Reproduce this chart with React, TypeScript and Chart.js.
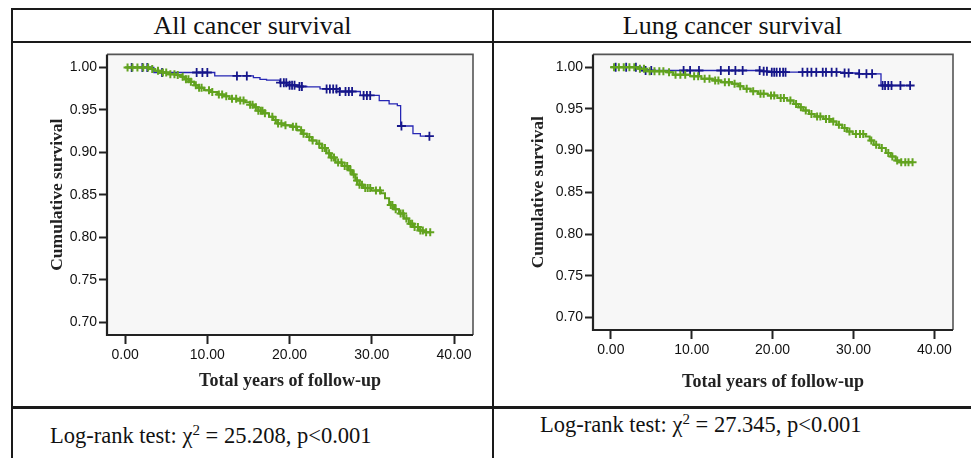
import React, { useEffect, useRef } from "react";
import { Chart, registerables } from "chart.js";

Chart.register(...registerables);

// ---------- text ----------
const PANEL_TITLES = ["All cancer survival", "Lung cancer survival"];
const CHI_SQUARE = ["25.208", "27.345"];
const P_TEXT = "p<0.001";
const X_TITLE = "Total years of follow-up";
const Y_TITLE = "Cumulative survival";
const X_TICKS = [0, 10, 20, 30, 40];
const Y_TICKS = [0.7, 0.75, 0.8, 0.85, 0.9, 0.95, 1.0];

// ---------- All cancer survival ----------
const allBlueTimes = [0, 3.5, 10.9, 15.6, 16.4, 17.2, 18.8, 19.8, 21.0, 22.1, 23.7, 26.1, 28.6, 30.9, 32.1, 33.1, 33.5, 35.0, 35.9];
const allBlueSurv = [1.0, 0.994, 0.99, 0.988, 0.986, 0.985, 0.982, 0.979, 0.9775, 0.977, 0.9747, 0.9716, 0.967, 0.961, 0.957, 0.955, 0.931, 0.922, 0.919];
const allBlueCensor = [0.8, 2.1, 2.7, 4.5, 8.7, 9.4, 10.0, 13.6, 14.8, 18.9, 19.3, 19.6, 20.0, 20.3, 20.6, 21.2, 21.5, 24.5, 24.9, 25.3, 25.7, 26.1, 26.8, 27.2, 27.6, 29.0, 29.4, 29.8, 33.6, 37.0];

const allGreenTimes = [0, 2.9, 3.6, 4.2, 5.3, 6.2, 6.8, 7.3, 7.8, 8.4, 8.9, 9.6, 10.4, 11.2, 12.0, 12.7, 13.6, 14.6, 15.2, 15.7, 16.2, 16.8, 17.5, 18.0, 18.5, 19.4, 20.2, 20.9, 21.5, 22.1, 22.7, 23.3, 23.9, 24.5, 25.0, 25.6, 26.4, 27.2, 27.6, 28.0, 28.5, 29.0, 29.9, 31.1, 31.6, 32.1, 32.7, 33.3, 33.9, 34.5, 35.1, 35.7, 36.3];
const allGreenSurv = [1.0, 0.998, 0.996, 0.994, 0.992, 0.991, 0.989, 0.986, 0.983, 0.979, 0.976, 0.973, 0.971, 0.968, 0.966, 0.963, 0.961, 0.959, 0.956, 0.953, 0.949, 0.946, 0.942, 0.938, 0.934, 0.932, 0.93, 0.926, 0.922, 0.918, 0.914, 0.91, 0.905, 0.899, 0.894, 0.888, 0.884, 0.879, 0.874, 0.867, 0.862, 0.858, 0.855, 0.852, 0.846, 0.838, 0.833, 0.828, 0.822, 0.816, 0.812, 0.808, 0.806];
const allGreenCensor = [0.3, 0.9, 1.5, 2.2, 2.8, 3.3, 4.0, 4.6, 5.0, 5.5, 6.0, 6.4, 7.0, 7.4, 7.7, 8.0, 8.6, 9.0, 9.3, 10.2, 10.6, 11.4, 11.8, 12.3, 13.0, 13.5, 14.0, 14.4, 15.2, 15.5, 15.9, 16.2, 16.5, 16.7, 17.0, 17.9, 18.3, 18.6, 19.0, 19.5, 20.4, 20.8, 21.4, 21.7, 22.4, 22.8, 23.6, 24.0, 24.3, 24.8, 25.1, 25.4, 25.9, 26.3, 26.7, 27.0, 27.4, 27.8, 28.2, 28.5, 28.8, 29.2, 29.5, 29.8, 30.5, 31.0, 32.3, 32.5, 32.9, 33.5, 33.8, 34.2, 34.7, 34.9, 35.2, 35.6, 35.9, 36.2, 36.6, 37.1];

// ---------- Lung cancer survival ----------
const lungBlueTimes = [0, 3.8, 18.6, 19.6, 28.8, 30.6, 33.4];
const lungBlueSurv = [1.0, 0.996, 0.995, 0.994, 0.993, 0.992, 0.978];
const lungBlueCensor = [0.6, 1.9, 3.1, 4.3, 5.0, 9.0, 9.8, 10.9, 13.6, 14.6, 15.4, 16.3, 18.4, 18.9, 19.3, 19.9, 20.2, 20.5, 20.9, 21.3, 21.6, 23.7, 24.3, 24.8, 25.4, 26.2, 26.6, 27.3, 27.9, 28.9, 29.4, 30.7, 31.6, 32.3, 33.6, 33.9, 34.3, 34.7, 35.8, 37.0];

const lungGreenTimes = [0, 3.4, 4.3, 7.0, 7.7, 9.8, 11.2, 12.6, 13.6, 15.0, 15.8, 16.4, 17.3, 18.2, 19.4, 20.6, 21.8, 22.6, 23.2, 23.8, 24.5, 25.2, 26.3, 27.2, 27.9, 28.6, 29.2, 29.9, 31.5, 32.0, 32.5, 33.2, 34.0, 34.6, 35.2, 35.7];
const lungGreenSurv = [1.0, 0.998, 0.995, 0.994, 0.991, 0.989, 0.986, 0.984, 0.982, 0.98, 0.977, 0.974, 0.971, 0.968, 0.966, 0.963, 0.96, 0.956, 0.952, 0.948, 0.944, 0.941, 0.938, 0.935, 0.931, 0.927, 0.923, 0.92, 0.917, 0.912, 0.907, 0.903, 0.897, 0.893, 0.888, 0.886];
const lungGreenCensor = [0.4, 1.0, 1.6, 2.3, 2.9, 3.6, 4.1, 4.8, 5.4, 6.0, 6.5, 7.2, 8.0, 8.6, 9.2, 10.3, 10.8, 11.6, 12.2, 12.9, 13.3, 14.1, 14.6, 15.3, 16.0, 16.8, 17.6, 18.5, 18.9, 19.8, 20.2, 21.0, 21.4, 22.2, 22.9, 23.5, 24.1, 24.8, 25.5, 25.9, 26.6, 27.0, 27.5, 28.2, 28.9, 29.5, 30.3, 30.8, 31.2, 32.2, 32.8, 33.5, 34.3, 34.8, 35.4, 35.9, 36.4, 36.8, 37.3];

// ---------- helpers ----------
type Pt = { x: number; y: number };

function survivalAt(times: number[], surv: number[], t: number): number {
  let v = surv[0];
  for (let i = 0; i < times.length; i++) {
    if (times[i] <= t) v = surv[i];
  }
  return v;
}

function stepLine(times: number[], surv: number[], censor: number[]): Pt[] {
  const pts: Pt[] = times.map((t, i) => ({ x: t, y: surv[i] }));
  const last = Math.max(...censor);
  if (last > times[times.length - 1]) pts.push({ x: last, y: surv[surv.length - 1] });
  return pts;
}

function censorPts(times: number[], surv: number[], censor: number[]): Pt[] {
  return censor.map((t) => ({ x: t, y: survivalAt(times, surv, t) }));
}

const BLUE_LINE = "#2626b4";
const BLUE_MARK = "#16168a";
const GREEN_LINE = "#5e9f1e";
const GREEN_MARK = "#62a31f";

const TICK_FONT = { family: "'Liberation Sans', Arial, sans-serif", size: 14 };
const X_TITLE_FONT = { family: "'Liberation Serif', 'Times New Roman', serif", size: 18, weight: "bold" as const };
const Y_TITLE_FONT = { family: "'Liberation Serif', 'Times New Roman', serif", size: 17.5, weight: "bold" as const };

const framePlugin = {
  id: "frame",
  beforeDatasetsDraw(chart: any) {
    const { ctx, chartArea: a } = chart;
    ctx.save();
    ctx.fillStyle = "#f7f7f7";
    ctx.fillRect(a.left, a.top, a.right - a.left, a.bottom - a.top);
    ctx.restore();
  },
  afterDatasetsDraw(chart: any) {
    const { ctx, chartArea: a } = chart;
    ctx.save();
    ctx.lineWidth = 1.6;
    ctx.strokeStyle = "#555";
    ctx.beginPath();
    ctx.moveTo(a.left, a.top);
    ctx.lineTo(a.right, a.top);
    ctx.lineTo(a.right, a.bottom);
    ctx.stroke();
    ctx.lineWidth = 2.2;
    ctx.strokeStyle = "#222";
    ctx.beginPath();
    ctx.moveTo(a.left, a.top);
    ctx.lineTo(a.left, a.bottom);
    ctx.lineTo(a.right, a.bottom);
    ctx.stroke();
    ctx.restore();
  },
};

type PanelProps = {
  blue: [number[], number[], number[]];
  green: [number[], number[], number[]];
  yAxisWidth: number;
  xAxisHeight: number;
  xTitlePad: number;
  width: number;
  height: number;
};

function KMChart({ blue, green, yAxisWidth, xAxisHeight, xTitlePad, width, height }: PanelProps) {
  const ref = useRef<HTMLCanvasElement | null>(null);
  useEffect(() => {
    if (!ref.current) return;
    const chart = new Chart(ref.current, {
      type: "line",
      data: {
        datasets: [
          {
            data: censorPts(green[0], green[1], green[2]),
            showLine: false,
            pointStyle: "cross",
            pointRadius: 4,
            pointBorderWidth: 2,
            pointBorderColor: GREEN_MARK,
            borderColor: GREEN_MARK,
          },
          {
            data: stepLine(green[0], green[1], green[2]),
            stepped: true,
            borderColor: GREEN_LINE,
            borderWidth: 2,
            pointRadius: 0,
            fill: false,
          },
          {
            data: censorPts(blue[0], blue[1], blue[2]),
            showLine: false,
            pointStyle: "cross",
            pointRadius: 4.5,
            pointBorderWidth: 1.8,
            pointBorderColor: BLUE_MARK,
            borderColor: BLUE_MARK,
          },
          {
            data: stepLine(blue[0], blue[1], blue[2]),
            stepped: true,
            borderColor: BLUE_LINE,
            borderWidth: 1.3,
            pointRadius: 0,
            fill: false,
          },
        ],
      } as any,
      options: {
        animation: false,
        responsive: false,
        maintainAspectRatio: false,
        events: [],
        layout: { padding: { top: 8, right: 18, left: 0, bottom: 0 } },
        plugins: { legend: { display: false }, tooltip: { enabled: false } },
        scales: {
          x: {
            type: "linear",
            min: -2.2,
            max: 42.3,
            afterBuildTicks: (s: any) => {
              s.ticks = X_TICKS.map((v) => ({ value: v }));
            },
            afterFit: (s: any) => {
              s.height = xAxisHeight;
            },
            grid: { drawOnChartArea: false, drawTicks: true, tickLength: 9, tickColor: "#222", tickWidth: 2 },
            border: { display: false },
            ticks: {
              autoSkip: false,
              maxRotation: 0,
              padding: 3,
              color: "#111",
              font: TICK_FONT,
              callback: (v: any) => Number(v).toFixed(2),
            },
            title: { display: true, text: X_TITLE, color: "#222", font: X_TITLE_FONT, padding: { top: 0, bottom: xTitlePad } },
          },
          y: {
            type: "linear",
            min: 0.685,
            max: 1.0153,
            afterBuildTicks: (s: any) => {
              s.ticks = Y_TICKS.map((v) => ({ value: v }));
            },
            afterFit: (s: any) => {
              s.width = yAxisWidth;
            },
            grid: { drawOnChartArea: false, drawTicks: true, tickLength: 8, tickColor: "#222", tickWidth: 2 },
            border: { display: false },
            ticks: {
              autoSkip: false,
              padding: 2,
              color: "#111",
              font: TICK_FONT,
              callback: (v: any) => Number(v).toFixed(2),
            },
            title: { display: true, text: Y_TITLE, color: "#222", font: Y_TITLE_FONT, padding: { top: 32.5, bottom: 0 } },
          },
        },
      } as any,
      plugins: [framePlugin],
    });
    return () => chart.destroy();
  }, []);
  return <canvas ref={ref} width={width} height={height} style={{ width, height, display: "block" }} />;
}

const LINE = "#1a1a1a";
const serif = "'Liberation Serif', 'Times New Roman', Times, serif";

function HLine({ top, h = 2 }: { top: number; h?: number }) {
  return <div style={{ position: "absolute", left: 11, right: 0, top, height: h, background: LINE }} />;
}
function VLine({ left }: { left: number }) {
  return <div style={{ position: "absolute", left, top: 8, bottom: 0, width: 2, background: LINE }} />;
}

const titleStyle: React.CSSProperties = {
  position: "absolute",
  top: 13,
  fontFamily: serif,
  fontSize: 26,
  lineHeight: "26px",
  textAlign: "center",
  color: "#111",
};

const captionStyle: React.CSSProperties = {
  position: "absolute",
  fontFamily: serif,
  fontSize: 22.5,
  lineHeight: "22.5px",
  color: "#111",
  whiteSpace: "nowrap",
};

export default function App() {
  return (
    <div style={{ position: "absolute", left: 0, top: 0, width: 971, height: 458, background: "#fff", overflow: "hidden" }}>
      <HLine top={8} />
      <HLine top={40.5} h={2.5} />
      <HLine top={406} h={2.5} />
      <VLine left={11} />
      <VLine left={492} />

      <div style={{ ...titleStyle, left: 13, width: 479 }}>{PANEL_TITLES[0]}</div>
      <div style={{ ...titleStyle, left: 494, width: 477 }}>{PANEL_TITLES[1]}</div>

      <div style={{ position: "absolute", left: 14, top: 44 }}>
        <KMChart
          blue={[allBlueTimes, allBlueSurv, allBlueCensor]}
          green={[allGreenTimes, allGreenSurv, allGreenCensor]}
          yAxisWidth={93}
          xAxisHeight={70}
          xTitlePad={13}
          width={477}
          height={361}
        />
      </div>
      <div style={{ position: "absolute", left: 495, top: 44 }}>
        <KMChart
          blue={[lungBlueTimes, lungBlueSurv, lungBlueCensor]}
          green={[lungGreenTimes, lungGreenSurv, lungGreenCensor]}
          yAxisWidth={98}
          xAxisHeight={75}
          xTitlePad={12}
          width={476}
          height={361}
        />
      </div>

      <div style={{ ...captionStyle, left: 50, top: 425 }}>
        Log-rank test: χ<sup style={{ fontSize: 15, lineHeight: 0 }}>2</sup> = {CHI_SQUARE[0]}, {P_TEXT}
      </div>
      <div style={{ ...captionStyle, left: 540, top: 414 }}>
        Log-rank test: χ<sup style={{ fontSize: 15, lineHeight: 0 }}>2</sup> = {CHI_SQUARE[1]}, {P_TEXT}
      </div>
    </div>
  );
}
